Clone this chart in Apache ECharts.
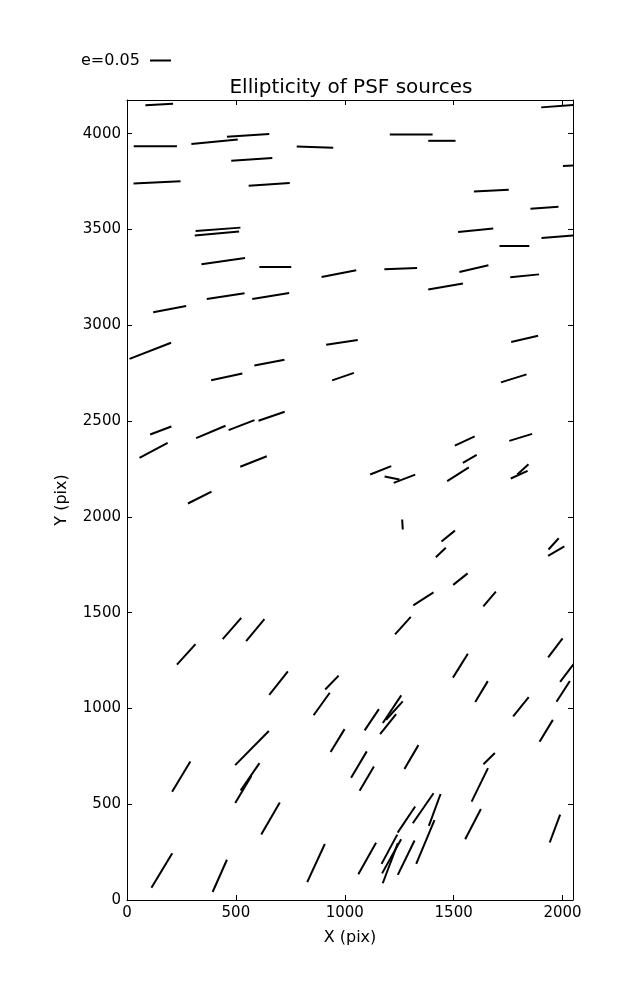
<!DOCTYPE html>
<html>
<head>
<meta charset="utf-8">
<script src="https://cdn.jsdelivr.net/npm/echarts@6/dist/echarts.min.js"></script>
<style>
html,body{margin:0;padding:0;background:#fff;}
#chart{width:637px;height:1000px;}
</style>
</head>
<body>
<div id="chart"></div>
<script>
// Source centres (pixel coordinates on the detector), ellipticity and position angle (deg)
const srcX = [148,130,402,556,863,573,138,653,418,413,442,681,973,453,660,
  1980,1305,1446,2045,1673,1917,1601,1986,1779,1257,1593,1826,1463,
  196,107,987,654,458,992,155,122,385,526,664,581,334,
  1826,1776,1551,1808,1165,1217,1274,1574,1520,1801,1818,
  1265,1475,1441,1959,1971,1531,1361,1665,1267,
  272,482,589,1531,1967,2029,696,941,1628,2003,894,1809,
  1124,1199,1217,1228,574,967,1925,1663,1306,1065,249,534,565,1101,1620,
  659,1283,1360,1413,1370,1589,1965,160,426,868,1103,1205,1215,1209,1282];
const srcY = [4152,3934,3958,3991,3930,3866,3746,3735,3501,3479,3335,3304,3270,3152,3153,
  4144,3996,3963,3834,3703,3613,3496,3463,3414,3296,3296,3258,3202,
  3084,2867,2911,2805,2731,2732,2451,2347,2443,2479,2525,2289,2101,
  2929,2723,2396,2415,2243,2203,2199,2303,2222,2220,2248,
  1960,1900,1814,1859,1821,1675,1572,1571,1432,
  1282,1417,1409,1223,1316,1199,1132,1135,1088,1089,1023,1009,
  941,918,996,989,793,832,883,738,746,707,644,577,643,633,601,
  425,420,479,470,303,396,373,154,126,193,217,265,228,192,221];
const ellipticity = [0.066,0.103,0.111,0.101,0.087,0.098,0.112,0.098,0.107,0.106,0.105,0.076,0.084,0.091,0.089,
  0.081,0.102,0.065,0.045,0.083,0.067,0.084,0.086,0.071,0.078,0.071,0.069,0.084,
  0.080,0.106,0.076,0.073,0.076,0.055,0.054,0.076,0.076,0.066,0.066,0.068,0.063,
  0.066,0.064,0.052,0.057,0.054,0.036,0.055,0.038,0.061,0.044,0.036,
  0.024,0.041,0.033,0.036,0.045,0.044,0.057,0.046,0.056,
  0.066,0.067,0.068,0.067,0.057,0.069,0.071,0.046,0.058,0.059,0.066,0.059,
  0.061,0.061,0.079,0.059,0.114,0.064,0.061,0.038,0.066,0.073,0.084,0.075,0.079,0.067,0.089,
  0.088,0.075,0.087,0.081,0.113,0.081,0.071,0.096,0.084,0.100,0.086,0.079,0.093,0.102,0.091];
const posAngle = [3.1,0,5.8,3.6,-2.2,3.8,2.8,3.8,4.3,5.1,8.2,0,10.9,8.6,9.2,
  4.2,0,0,3,2.6,4.1,5.5,4.8,0,2.3,13,5.9,9.8,
  10.8,21.2,8.3,10.8,12.1,19,20.6,28.2,22.9,21,19.1,21.7,26.9,
  13.3,17.3,24.6,17.1,21.6,-11.3,21.2,29.7,32.4,24.4,42.3,
  -86.6,38.8,44.1,47.7,30.5,38.5,32.6,49.4,48.1,
  47.9,48.8,50.3,58,53,53,51.4,45.8,59,57.3,54.3,51.2,
  56.2,51.3,56.3,47.8,45.3,58.7,58.8,44.2,59.7,59.3,58.9,59.3,55.3,59.5,64,
  59.8,56.2,55.4,69.9,67.4,62.5,69.6,58.9,66.1,65.2,60.7,61.8,60.8,69.4,64];

const xTickLabels = [0,500,1000,1500,2000];
const yTickLabels = [0,500,1000,1500,2000,2500,3000,3500,4000];
const keyEllipticity = 0.05;

const X_MAX = 2048, Y_MAX = 4176;
const WHISKER_SCALE = 420; // screen pixels per unit ellipticity

const data = srcX.map((x, i) => [x, srcY[i], ellipticity[i], posAngle[i]]);

const FONT = 'DejaVu Sans';
const chart = echarts.init(document.getElementById('chart'), null, {renderer: 'canvas'});

function axisCommon(extra) {
  return Object.assign({
    type: 'value',
    splitLine: {show: false},
    axisLine: {show: true, onZero: false, lineStyle: {color: '#000', width: 1}},
    axisTick: {show: true, inside: true, length: 5, lineStyle: {color: '#000', width: 1}},
    axisLabel: {color: '#000', fontSize: 15, fontFamily: FONT}
  }, extra);
}

const option = {
  animation: false,
  backgroundColor: '#fff',
  grid: {left: 127, top: 100, width: 446, height: 800, containLabel: false},
  xAxis: [
    axisCommon({
      min: 0, max: X_MAX, interval: 500, position: 'bottom',
      name: 'X (pix)', nameLocation: 'middle', nameGap: 30,
      nameTextStyle: {color: '#000', fontSize: 16, fontFamily: FONT},
      axisLabel: {color: '#000', fontSize: 15, fontFamily: FONT, margin: 6,
        formatter: v => xTickLabels.indexOf(v) >= 0 ? String(v) : ''}
    }),
    axisCommon({
      min: 0, max: X_MAX, interval: 500, position: 'top',
      axisLabel: {show: false}
    })
  ],
  yAxis: [
    axisCommon({
      min: 0, max: Y_MAX, interval: 500, position: 'left',
      name: 'Y (pix)', nameLocation: 'middle', nameGap: 57,
      nameTextStyle: {color: '#000', fontSize: 16, fontFamily: FONT},
      axisLabel: {color: '#000', fontSize: 15, fontFamily: FONT, margin: 6,
        formatter: v => yTickLabels.indexOf(v) >= 0 ? String(v) : ''}
    }),
    axisCommon({
      min: 0, max: Y_MAX, interval: 500, position: 'right',
      axisLabel: {show: false}
    })
  ],
  graphic: [
    {type: 'text', left: 81, top: 53,
      style: {text: 'e=' + keyEllipticity.toFixed(2), fill: '#000', fontSize: 16, fontFamily: FONT}},
    {type: 'line', shape: {x1: 150, y1: 60.5, x2: 150 + keyEllipticity * WHISKER_SCALE, y2: 60.5},
      style: {stroke: '#000', lineWidth: 2}},
    {type: 'text', x: 351, y: 87.5,
      style: {text: 'Ellipticity of PSF sources', fill: '#000', fontSize: 20, fontFamily: FONT,
        textAlign: 'center', textVerticalAlign: 'middle'}}
  ],
  series: [{
    type: 'custom',
    xAxisIndex: 0, yAxisIndex: 0,
    data: data,
    renderItem: function (params, api) {
      const c = api.coord([api.value(0), api.value(1)]);
      const half = api.value(2) * WHISKER_SCALE / 2;
      const a = api.value(3) * Math.PI / 180;
      const dx = half * Math.cos(a), dy = -half * Math.sin(a);
      const cs = params.coordSys;
      return {
        type: 'line',
        shape: {x1: c[0] - dx, y1: c[1] - dy, x2: c[0] + dx, y2: c[1] + dy},
        style: {stroke: '#000', lineWidth: 2, lineCap: 'butt'},
        clipPath: {type: 'rect', shape: {x: cs.x, y: cs.y, width: cs.width, height: cs.height}}
      };
    }
  }]
};
chart.setOption(option);
</script>
</body>
</html>
